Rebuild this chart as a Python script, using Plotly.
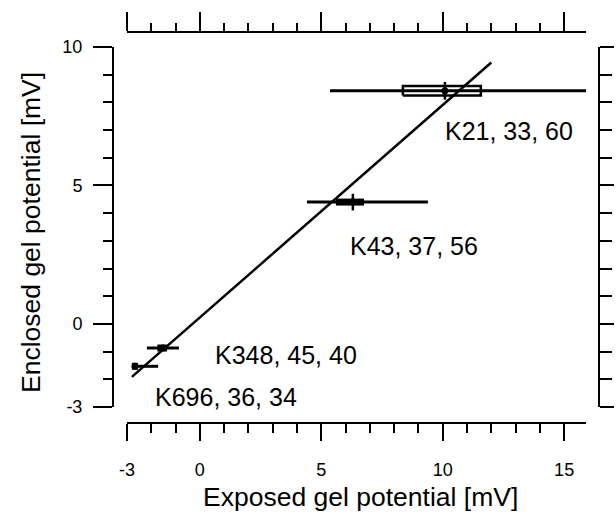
import plotly.graph_objects as go

# ---- data ----
labels = ["K21, 33, 60", "K43, 37, 56", "K348, 45, 40", "K696, 36, 34"]
x_center = [10.09, 6.30, -1.52, -2.67]
y_center = [8.42, 4.40, -0.87, -1.53]
x_min = [5.36, 4.41, -2.18, -2.79]
x_max = [15.94, 9.39, -0.86, -1.72]
box_lo = [8.36, 5.60, -1.75, -2.80]
box_hi = [11.57, 6.76, -1.35, -2.55]
box_open = [True, False, False, False]
y_err = [0.32, 0.3, 0.0, 0.0]
label_x = [10.0, 6.1, 0.54, -1.93]
label_y = [6.95, 2.82, -1.12, -2.64]

fit_slope = 0.767
fit_intercept = 0.235
fit_x = [-2.8, 12.0]

x_ticks = [-3, 0, 5, 10, 15]
y_ticks = [-3, 0, 5, 10]
x_minor = [v for v in range(-2, 16) if v not in x_ticks]
y_minor = [v for v in range(-2, 10) if v not in y_ticks]
x_range = [-3, 15.9]
y_range = [-3, 10]

W, H = 616, 512
FONT = "Liberation Sans, Arial, Helvetica, sans-serif"

fig = go.Figure()

# fit line
fig.add_trace(go.Scatter(
    x=fit_x, y=[fit_intercept + fit_slope * v for v in fit_x],
    mode="lines", line=dict(color="black", width=2.5), hoverinfo="skip"))

half_h = 0.17
for i in range(len(labels)):
    # whisker
    fig.add_trace(go.Scatter(
        x=[x_min[i], x_max[i]], y=[y_center[i], y_center[i]],
        mode="lines", line=dict(color="black", width=3), hoverinfo="skip"))
    # box
    yb0, yb1 = y_center[i] - half_h, y_center[i] + half_h
    if box_open[i]:
        fig.add_trace(go.Scatter(
            x=[box_lo[i], box_hi[i], box_hi[i], box_lo[i], box_lo[i]],
            y=[yb0, yb0, yb1, yb1, yb0],
            mode="lines", line=dict(color="black", width=2.5), hoverinfo="skip"))
    else:
        fig.add_trace(go.Scatter(
            x=[box_lo[i], box_hi[i]], y=[y_center[i], y_center[i]],
            mode="lines", line=dict(color="black", width=7), hoverinfo="skip"))
    # centre with vertical error
    fig.add_trace(go.Scatter(
        x=[x_center[i]], y=[y_center[i]], mode="markers",
        marker=dict(color="black", size=7, symbol="circle"),
        error_y=dict(type="data", array=[y_err[i]], color="black",
                     thickness=2.5, width=0),
        hoverinfo="skip"))

# dummy traces for the frame axes
fig.add_trace(go.Scatter(x=[None], y=[None], xaxis="x2", yaxis="y2",
                         mode="markers", hoverinfo="skip"))

for i, t in enumerate(labels):
    fig.add_annotation(x=label_x[i], y=label_y[i], xref="x", yref="y",
                       text=t, showarrow=False, xanchor="left", yanchor="middle",
                       font=dict(family=FONT, size=25, color="black"))

# axis titles
fig.add_annotation(x=360 / W, y=1 - 497 / H, xref="paper", yref="paper",
                   text="Exposed gel potential [mV]", showarrow=False,
                   xanchor="center", yanchor="middle",
                   font=dict(family=FONT, size=26.5, color="black"))
fig.add_annotation(x=31 / W, y=1 - 233 / H, xref="paper", yref="paper",
                   text="Enclosed gel potential [mV]", showarrow=False,
                   textangle=-90, xanchor="center", yanchor="middle",
                   font=dict(family=FONT, size=26.5, color="black"))

xdom = [127 / W, 586 / W]
ydom = [1 - 407 / H, 1 - 47 / H]

common = dict(showgrid=False, zeroline=False, showline=True, linecolor="black",
              linewidth=2, ticks="outside", tickcolor="black", tickwidth=2,
              automargin=False)

fig.update_layout(
    width=W, height=H, margin=dict(l=0, r=0, t=0, b=0),
    paper_bgcolor="white", plot_bgcolor="white", showlegend=False,
    template="none",
    xaxis=dict(domain=xdom, range=x_range, anchor="free", position=1 - 423 / H,
               tickvals=x_ticks, ticktext=[str(v) for v in x_ticks], ticklen=17,
               tickfont=dict(family=FONT, size=18, color="black"),
               ticklabelstandoff=13,
               minor=dict(tickvals=x_minor, ticks="outside", ticklen=9,
                          tickwidth=2, tickcolor="black", showgrid=False),
               **common),
    xaxis2=dict(domain=xdom, range=x_range, anchor="free", overlaying="x",
                side="top", position=1 - 32 / H, tickvals=x_ticks, ticklen=19,
                showticklabels=False,
                minor=dict(tickvals=x_minor, ticks="outside", ticklen=8,
                           tickwidth=2, tickcolor="black", showgrid=False),
                **common),
    yaxis=dict(domain=ydom, range=y_range, anchor="free", position=113 / W,
               tickvals=y_ticks, ticktext=[str(v) for v in y_ticks], ticklen=19,
               tickfont=dict(family=FONT, size=18, color="black"),
               ticklabelstandoff=7,
               minor=dict(tickvals=y_minor, ticks="outside", ticklen=9,
                          tickwidth=2, tickcolor="black", showgrid=False),
               **common),
    yaxis2=dict(domain=ydom, range=y_range, anchor="free", overlaying="y",
                side="right", position=599 / W, tickvals=y_ticks, ticklen=14,
                showticklabels=False,
                minor=dict(tickvals=y_minor, ticks="outside", ticklen=12,
                           tickwidth=2, tickcolor="black", showgrid=False),
                **common),
)

fig.write_html("out.html")
